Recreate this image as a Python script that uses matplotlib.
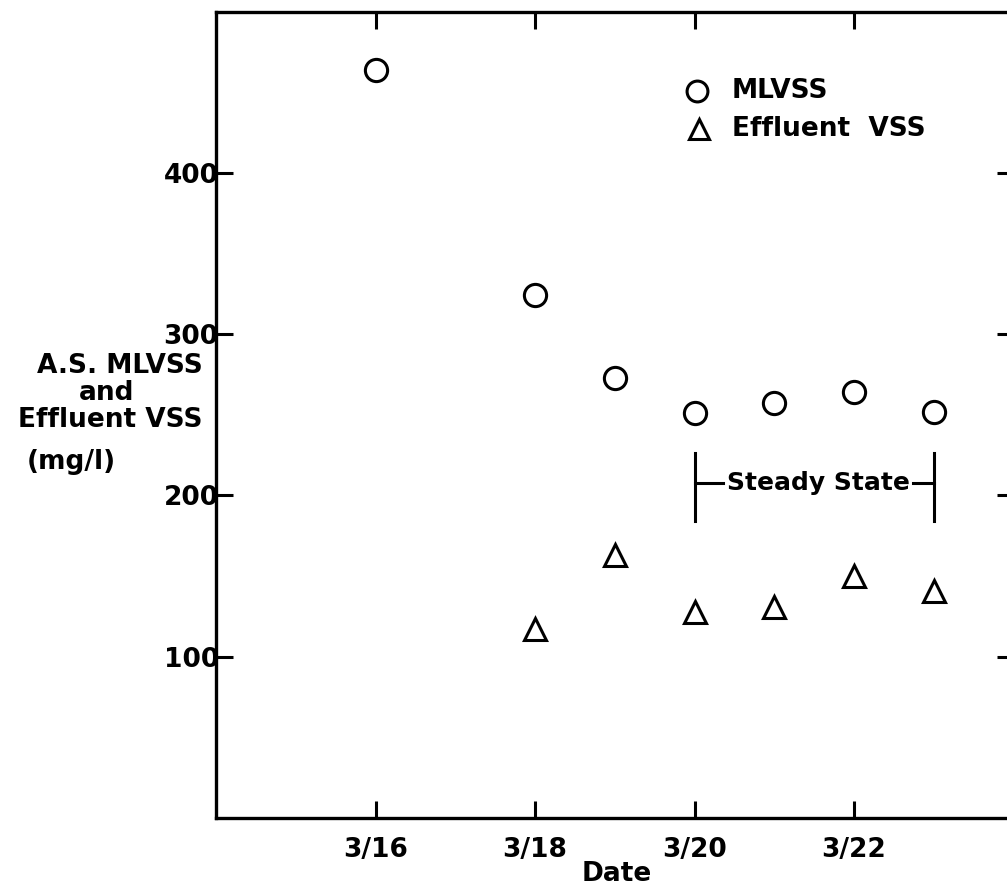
import matplotlib.pyplot as plt

# sampling days (March) and measured solids, mg/l
mlvss_day = [16, 18, 19, 20, 21, 22, 23]
mlvss = [464, 324, 273, 251, 257, 264, 252]
eff_day = [18, 19, 20, 21, 22, 23]
eff_vss = [117, 163, 128, 131, 150, 141]

date_ticks = [16, 18, 20, 22]
date_labels = ['3/16', '3/18', '3/20', '3/22']
conc_ticks = [100, 200, 300, 400]

steady_start, steady_end = 20, 23

plt.rcParams['font.family'] = ['DejaVu Sans']
plt.rcParams['font.weight'] = 'bold'

fig = plt.figure(figsize=(10.07, 8.92), dpi=100)
ax = fig.add_axes([0.2145, 0.083, 0.792, 0.904])

ax.plot(mlvss_day, mlvss, 'o', ms=16, mfc='white', mec='black', mew=2.2)
ax.plot(eff_day, eff_vss, '^', ms=16, mfc='white', mec='black', mew=2.2)

ax.set_xlim(14, 24)
ax.set_ylim(0, 500)

ax.set_xticks(date_ticks)
ax.set_xticklabels(date_labels, fontsize=19, fontweight='bold')
ax.set_yticks(conc_ticks)
ax.set_yticklabels([str(v) for v in conc_ticks], fontsize=19, fontweight='bold')
ax.tick_params(direction='in', length=12, width=2.2, top=True, right=True)
ax.tick_params(axis='x', pad=14)
ax.tick_params(axis='y', pad=-2)
for s in ax.spines.values():
    s.set_linewidth(2.4)

# legend drawn by hand
ax.plot(20.03, 451, 'o', ms=15, mfc='white', mec='black', mew=2.2)
ax.plot(20.05, 427, '^', ms=15, mfc='white', mec='black', mew=2.2)
ax.text(20.47, 451, 'MLVSS', fontsize=19, fontweight='bold', va='center')
ax.text(20.47, 427, 'Effluent  VSS', fontsize=19, fontweight='bold', va='center')

# steady state bracket
ax.plot([steady_start, steady_start], [184, 226], color='black', lw=2.2)
ax.plot([steady_end, steady_end], [184, 226], color='black', lw=2.2)
ax.plot([steady_start, 20.36], [208, 208], color='black', lw=2.2)
ax.plot([22.74, steady_end], [208, 208], color='black', lw=2.2)
ax.text(21.55, 208, 'Steady State', fontsize=18, fontweight='bold',
        ha='center', va='center')

# y axis caption, stacked lines
fig.text(0.201, 0.590, 'A.S. MLVSS', fontsize=19, fontweight='bold', ha='right', va='center')
fig.text(0.106, 0.559, 'and', fontsize=19, fontweight='bold', ha='center', va='center')
fig.text(0.201, 0.529, 'Effluent VSS', fontsize=19, fontweight='bold', ha='right', va='center')
fig.text(0.027, 0.482, '(mg/l)', fontsize=19, fontweight='bold', ha='left', va='center')

fig.text(0.612, 0.020, 'Date', fontsize=19, fontweight='bold', ha='center', va='center')

fig.savefig('out.png', dpi=100)
